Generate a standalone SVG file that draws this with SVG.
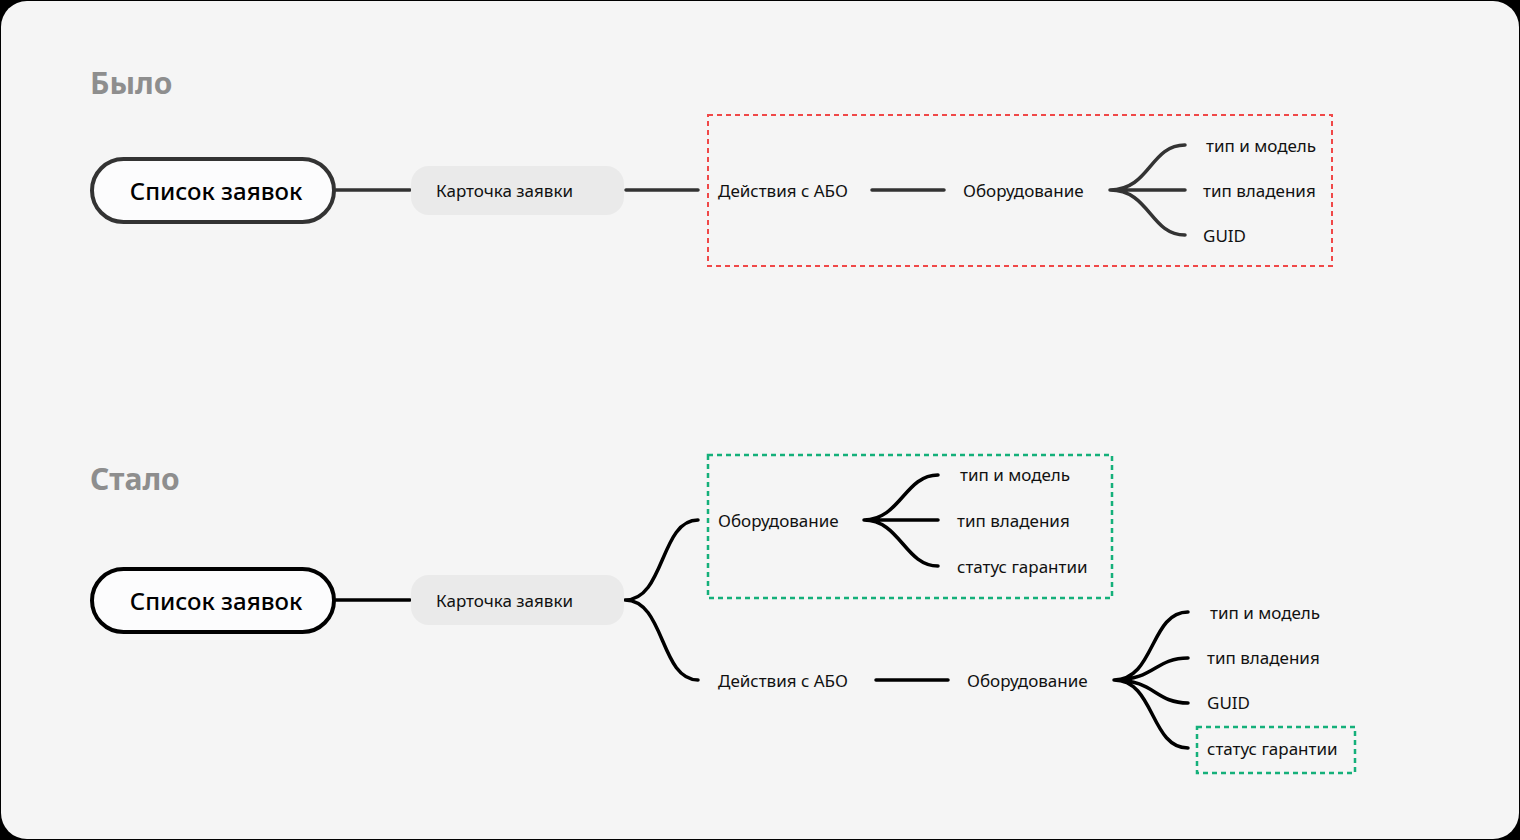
<svg xmlns="http://www.w3.org/2000/svg" width="1520" height="840" viewBox="0 0 1520 840">
<style>
.t{font-family:"Noto Sans","Open Sans",sans-serif;font-size:17px;fill:#111}
.h{font-family:"Noto Sans","Open Sans",sans-serif;font-size:30px;font-weight:bold;fill:#8e8e8e}
.root{fill:#fcfcfd;stroke-width:4}
.rt{font-family:"Noto Sans","Open Sans",sans-serif;font-size:24px;font-weight:500;fill:#000;text-anchor:middle}
.card{fill:#eaeaea}
.c1{fill:none;stroke:#333;stroke-width:3.5;stroke-linecap:round}
.c2{fill:none;stroke:#000;stroke-width:3.5;stroke-linecap:round}
.red{fill:none;stroke:#f04848;stroke-width:2;stroke-dasharray:5 4}
.grn{fill:none;stroke:#14b07a;stroke-width:2.5;stroke-dasharray:5 4}
</style>
<rect x="0" y="0" width="1520" height="840" fill="#000"/>
<rect x="1" y="1" width="1518" height="838" rx="26" fill="#f5f5f5"/>
<text class="h" x="90" y="94">Было</text>
<text class="h" x="90" y="490">Стало</text>
<g id="connectors">
<path class="c1" d="M336 190H410M626 190H698M872 190H944"/>
<path class="c1" d="M1110 190C1150 190 1150 145 1185 145M1110 190H1185M1110 190C1150 190 1150 235 1185 235"/>
<path class="c2" d="M336 600H410"/>
<path class="c2" d="M625 600C665 600 660 520 698 520M625 600C665 600 660 680 698 680M876 680H948"/>
<path class="c2" d="M864 520C900 520 905 475 938 475M864 520H938M864 520C900 520 905 566 938 566"/>
<path class="c2" d="M1114 680C1155 680 1150 612 1188 612M1114 680C1155 680 1155 658 1188 658M1114 680C1155 680 1155 703 1188 703M1114 680C1155 680 1150 748 1188 748"/>
</g>
<g id="was">
<g id="root1"><rect class="root" x="92" y="159" width="242" height="63" rx="31.5" stroke="#333"/><text class="rt" x="216" y="200">Список заявок</text></g>
<g id="card1"><rect class="card" x="411" y="166" width="213" height="49" rx="18"/><text class="t" x="436" y="197">Карточка заявки</text></g>
<rect class="red" x="708" y="115" width="624" height="151"/>
<g id="abo1"><text class="t" x="718" y="197">Действия с АБО</text></g>
<g id="eq1"><text class="t" x="963" y="197">Оборудование</text></g>
<g id="l1"><text class="t" x="1206" y="152">тип и модель</text></g>
<g id="l2"><text class="t" x="1203" y="197">тип владения</text></g>
<g id="l3"><text class="t" x="1203" y="242">GUID</text></g>
</g>
<g id="now">
<g id="root2"><rect class="root" x="92" y="569" width="242" height="63" rx="31.5" stroke="#000"/><text class="rt" x="216" y="610">Список заявок</text></g>
<g id="card2"><rect class="card" x="411" y="575" width="213" height="50" rx="18"/><text class="t" x="436" y="607">Карточка заявки</text></g>
<rect class="grn" x="708" y="455" width="404" height="143"/>
<g id="eq2"><text class="t" x="718" y="527">Оборудование</text></g>
<g id="m1"><text class="t" x="960" y="481">тип и модель</text></g>
<g id="m2"><text class="t" x="957" y="527">тип владения</text></g>
<g id="m3"><text class="t" x="957" y="573">статус гарантии</text></g>
<g id="abo2"><text class="t" x="718" y="687">Действия с АБО</text></g>
<g id="eq3"><text class="t" x="967" y="687">Оборудование</text></g>
<g id="n1"><text class="t" x="1210" y="619">тип и модель</text></g>
<g id="n2"><text class="t" x="1207" y="664">тип владения</text></g>
<g id="n3"><text class="t" x="1207" y="709">GUID</text></g>
<rect class="grn" x="1197" y="727" width="158" height="46"/>
<g id="n4"><text class="t" x="1207" y="755">статус гарантии</text></g>
</g>
</svg>
